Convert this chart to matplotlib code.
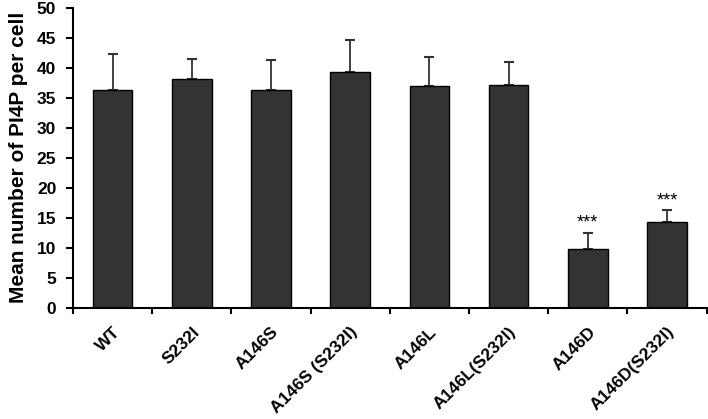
import numpy as np
import matplotlib.pyplot as plt

plt.rcParams['font.family'] = ['Liberation Sans', 'DejaVu Sans']
plt.rcParams['font.weight'] = 'bold'

mutantes = ['WT', 'S232I', 'A146S', 'A146S (S232I)', 'A146L', 'A146L(S232I)', 'A146D', 'A146D(S232I)']
medias = [36.3, 38.1, 36.3, 39.3, 36.9, 37.1, 9.8, 14.3]
erros = [6.0, 3.3, 5.0, 5.3, 4.8, 3.9, 2.7, 1.9]
signif = ['', '', '', '', '', '', '***', '***']

fig = plt.figure(figsize=(7.08, 4.19), dpi=100)
ax = fig.add_axes([0.103, 0.266, 0.895, 0.716])

x = np.arange(len(mutantes))
ax.bar(x, medias, width=0.5, color='#333333', edgecolor='black', linewidth=1.0, zorder=2)
ax.errorbar(x, medias, yerr=[np.zeros(len(erros)), erros], fmt='none',
            ecolor='#333333', elinewidth=1.3, capsize=3.8, capthick=1.5, zorder=1)

for xi, m, e, s in zip(x, medias, erros, signif):
    if s:
        ax.text(xi, m + e + 0.1, s, ha='center', va='bottom', fontsize=13, fontweight='normal')

ax.set_xlim(-0.5, len(mutantes) - 0.5)
ax.set_ylim(0, 50)
ax.set_yticks(np.arange(0, 51, 5))
ax.set_xticks(x)
ax.set_xticklabels(mutantes, rotation=45, ha='right', rotation_mode='anchor', fontsize=12.5, fontweight='bold')
ax.set_xticks(np.arange(-0.5, len(mutantes), 1), minor=True)
ax.tick_params(axis='x', which='major', length=0, pad=12)
ax.tick_params(axis='x', which='minor', length=4, width=1.5)
ax.tick_params(axis='y', length=5, width=1.5, labelsize=12.5, pad=7)
for lab in ax.get_yticklabels():
    lab.set_fontweight('bold')

ax.spines['top'].set_visible(False)
ax.spines['right'].set_visible(False)
ax.spines['left'].set_linewidth(1.5)
ax.spines['bottom'].set_linewidth(1.5)

ax.set_ylabel('Mean number of PI4P per cell', fontsize=15, fontweight='bold', labelpad=6)

plt.savefig('out.png', dpi=100)
